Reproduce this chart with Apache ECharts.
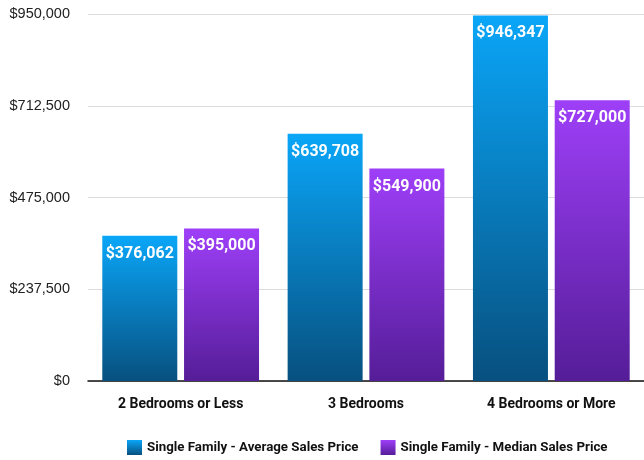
<!DOCTYPE html>
<html><head><meta charset="utf-8">
<script src="https://cdn.jsdelivr.net/npm/echarts@6/dist/echarts.min.js"></script>
<style>html,body{margin:0;padding:0;background:#fff}#c{width:644px;height:460px}</style>
</head><body><div id="c"></div>
<script>
const categories = ['2 Bedrooms or Less', '3 Bedrooms', '4 Bedrooms or More'];
const averagePrice = [376062, 639708, 946347];
const medianPrice = [395000, 549900, 727000];
const seriesNames = ['Single Family - Average Sales Price', 'Single Family - Median Sales Price'];

function grad(top, bottom) {
  return new echarts.graphic.LinearGradient(0, 0, 0, 1, [{offset: 0, color: top}, {offset: 1, color: bottom}]);
}
const blue = grad('#0aa6f8', '#07507f');
const purple = grad('#9e3ff8', '#551d98');
const money = v => '$' + v.toLocaleString('en-US');
const labelStyle = {
  show: true, position: 'insideTop', distance: 10, color: '#fff',
  fontFamily: 'Roboto', fontWeight: 'bold', fontSize: 16,
  formatter: p => money(p.value)
};
const chart = echarts.init(document.getElementById('c'));
chart.setOption({
  animation: false,
  grid: {left: 88, width: 561, top: 14, bottom: 79},
  legend: {
    bottom: 0, left: 122, itemWidth: 15, itemHeight: 15, itemGap: 22,
    icon: 'rect',
    textStyle: {fontFamily: 'Roboto', fontWeight: 'bold', fontSize: 13.3, color: '#111'},
    data: seriesNames
  },
  xAxis: {
    type: 'category', data: categories,
    axisTick: {show: false},
    axisLine: {lineStyle: {color: '#111', width: 1.5}},
    axisLabel: {margin: 16, fontFamily: 'Roboto', fontWeight: 'bold', fontSize: 14, color: '#111'}
  },
  yAxis: {
    type: 'value', min: 0, max: 950000, interval: 237500,
    axisLabel: {margin: 18, fontFamily: 'Liberation Sans', fontSize: 14.5, color: '#222', formatter: v => money(v)},
    splitLine: {lineStyle: {color: '#dcdcdc'}}
  },
  series: [
    {name: seriesNames[0], type: 'bar', data: averagePrice, barWidth: 75, barGap: '9%',
     itemStyle: {color: blue}, label: labelStyle},
    {name: seriesNames[1], type: 'bar', data: medianPrice, barWidth: 75,
     itemStyle: {color: purple}, label: labelStyle}
  ]
});
</script></body></html>
